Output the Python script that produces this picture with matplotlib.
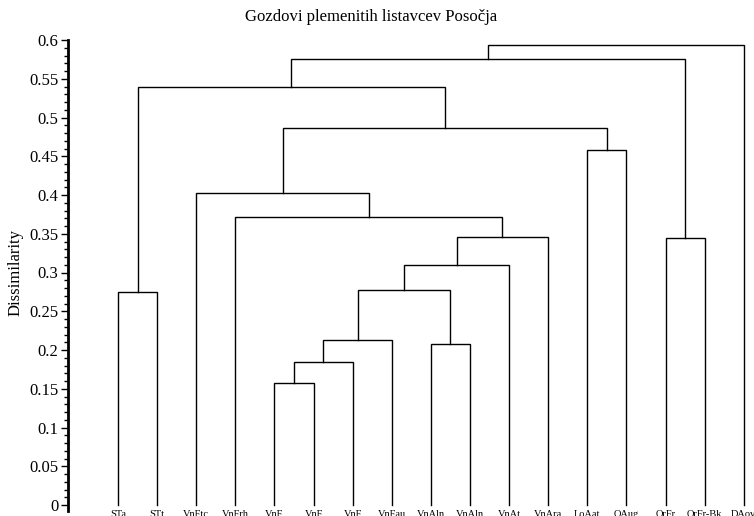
import matplotlib
matplotlib.use('Agg')
import matplotlib.pyplot as plt
from matplotlib.ticker import MultipleLocator

plt.rcParams['font.family'] = ['Liberation Serif', 'DejaVu Serif']

# leaves in plotted order
leaves = ['STa', 'STt', 'VnFtc', 'VnFrh', 'VnF', 'VnF', 'VnF', 'VnFau', 'VnAln',
          'VnAln', 'VnAt', 'VnAra', 'LoAat', 'OAug', 'OrFr', 'OrFr-Bk', 'DAov']

# merges: (left child, right child, height); ints are leaves, 'cN' are clusters
merge_left = [4, 'c0', 'c1', 8, 'c2', 'c4', 'c5', 3, 2, 12, 'c8', 0, 'c11', 14, 'c12', 'c14']
merge_right = [5, 6, 7, 9, 'c3', 10, 11, 'c6', 'c7', 13, 'c9', 1, 'c10', 15, 'c13', 16]
merge_height = [0.157, 0.184, 0.213, 0.208, 0.278, 0.310, 0.346, 0.372, 0.402,
                0.458, 0.487, 0.275, 0.539, 0.344, 0.576, 0.594]

title = 'Gozdovi plemenitih listavcev Posočja'
ylabel = 'Dissimilarity'


def node_pos(node, clusters):
    if isinstance(node, str):
        return clusters[int(node[1:])]
    return (float(node), 0.0)


def draw_dendrogram(ax):
    clusters = []
    for l, r, h in zip(merge_left, merge_right, merge_height):
        lx, ly = node_pos(l, clusters)
        rx, ry = node_pos(r, clusters)
        ax.plot([lx, lx, rx, rx], [ly, h, h, ry], color='black', lw=1.0,
                solid_joinstyle='miter', clip_on=False)
        clusters.append(((lx + rx) / 2, h))


def main():
    fig = plt.figure(figsize=(7.54, 5.16), dpi=100)
    ax = fig.add_axes([68 / 754, 11 / 516, 686 / 754, 465 / 516])
    draw_dendrogram(ax)

    ax.set_xlim(-1.278, 16.26)
    ax.set_ylim(0, 0.6)
    for s in ['top', 'right', 'bottom']:
        ax.spines[s].set_visible(False)
    ax.spines['left'].set_linewidth(2)
    ax.spines['left'].set_bounds(-0.008, 0.6)

    ax.yaxis.set_minor_locator(MultipleLocator(0.01))
    ax.set_yticks([i * 0.05 for i in range(13)])
    ax.set_yticklabels(['0', '0.05', '0.1', '0.15', '0.2', '0.25', '0.3', '0.35',
                        '0.4', '0.45', '0.5', '0.55', '0.6'])
    ax.tick_params(axis='y', which='major', length=5, width=1, labelsize=12, pad=2)
    ax.tick_params(axis='y', which='minor', length=3, width=1)
    ax.set_xticks([])

    # leaf labels sit below the axes, partly past the lower edge as in the original
    for i, name in enumerate(leaves):
        ax.text(i, -0.007, name, ha='center', va='top', fontsize=7.5)

    ax.set_ylabel(ylabel, fontsize=12, labelpad=4)
    fig.text(371 / 754, 1 - 17 / 516, title, ha='center', va='center', fontsize=12)

    plt.savefig('out.png', dpi=100)


if __name__ == '__main__':
    main()
